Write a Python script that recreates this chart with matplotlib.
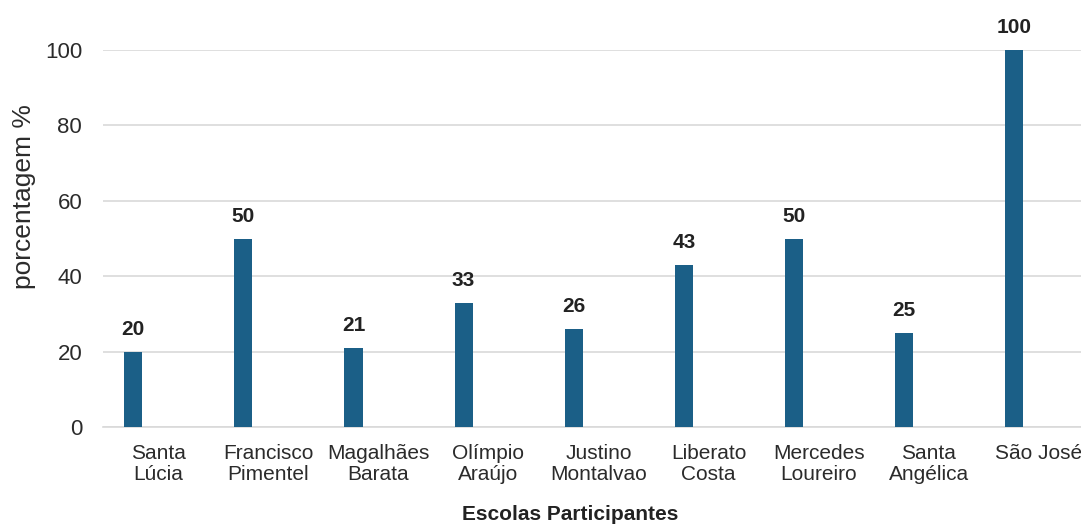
import numpy as np
import matplotlib
matplotlib.use("Agg")
import matplotlib.pyplot as plt

plt.rcParams['font.family'] = ['Liberation Sans', 'DejaVu Sans']

# dados
escolas = ["Santa\nLúcia", "Francisco\nPimentel", "Magalhães\nBarata", "Olímpio\nAraújo",
           "Justino\nMontalvao", "Liberato\nCosta", "Mercedes\nLoureiro", "Santa\nAngélica",
           "São José"]
porcentagem = [20, 50, 21, 33, 26, 43, 50, 25, 100]

cor_barra = "#1b5f87"
cor_grade = "#d9d9d9"

fig = plt.figure(figsize=(10.81, 5.28), dpi=100)
ax = fig.add_axes([103/1081, 101/528, 991/1081, 377/528])

x = np.arange(len(escolas))
barras = ax.bar(x - 0.225, porcentagem, width=0.165, color=cor_barra, zorder=3)

for b, v in zip(barras, porcentagem):
    ax.annotate(str(v), (b.get_x() + b.get_width()/2, v), xytext=(0, 12),
                textcoords="offset points", ha="center", va="baseline",
                fontsize=15, fontweight="bold", color="#222222", annotation_clip=False)

ax.set_xlim(-0.5, len(escolas) - 0.5)
ax.set_ylim(0, 100)
ax.set_yticks([0, 20, 40, 60, 80, 100])
ax.set_xticks(x)
ax.set_xticklabels(escolas, fontsize=15, color="#2b2b2b", linespacing=1.18)
ax.tick_params(axis="y", length=0, pad=15, labelsize=16, labelcolor="#2b2b2b")
ax.tick_params(axis="x", length=0, pad=12)
ax.yaxis.grid(True, color=cor_grade, linewidth=1.2, zorder=0)
for s in ["top", "right", "left"]:
    ax.spines[s].set_visible(False)
ax.spines["bottom"].set_color(cor_grade)
ax.spines["bottom"].set_linewidth(1.2)

fig.text(570/1081, 1 - 520/528, "Escolas Participantes", ha="center", va="baseline",
         fontsize=15, fontweight="bold", color="#222222")
fig.text(24/1081, 1 - 197/528, "porcentagem %", rotation=90, ha="center", va="center",
         fontsize=19, color="#2b2b2b")

fig.savefig("out.png", dpi=100)
